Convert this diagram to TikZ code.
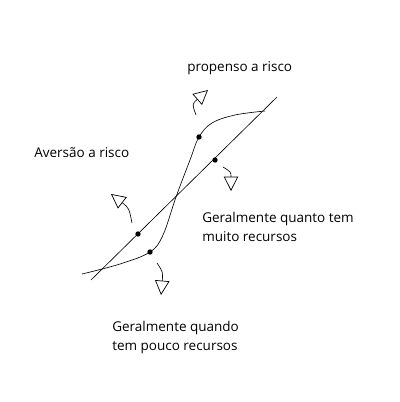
\documentclass[tikz,border=0pt]{standalone}
\usepackage{fontspec}
\setmainfont{Open Sans}
\usetikzlibrary{arrows.meta}

\begin{document}
\begin{tikzpicture}[
  x=0.025cm, y=-0.025cm,
  font=\fontsize{9.6pt}{13.5pt}\selectfont,
  line/.style={black, line width=0.45pt},
  turnarrow/.style={black, line width=0.45pt,
               -{Triangle[open, length=3.6mm, width=3.6mm, line width=0.5pt]}},
  dot/.style={circle, fill=black, inner sep=0pt, minimum size=1.35mm},
  label/.style={anchor=west, inner sep=0pt, align=left}
]
\useasboundingbox (0,0) rectangle (400,402);

% --- key points ---
\coordinate (l1) at (91,280);
\coordinate (l2) at (277,97);
\coordinate (s0) at (82,274);
\coordinate (s1) at (150,252);
\coordinate (s2) at (199,137);
\coordinate (s3) at (265,111);

% --- straight line and S curve ---
\draw[line] (l1) -- (l2);
\draw[line] plot[smooth, tension=0.6] coordinates
  {(s0) (120,264) (s1) (163,235) (176,197) (190,160) (s2) (212,123) (235,115) (s3)};

% --- dots ---
\node[dot] (d1) at (138,234) {};
\node[dot] (d2) at (215,160) {};
\node[dot] (d3) at (s1) {};
\node[dot] (d4) at (s2) {};

% --- arrows ---
\coordinate (a1) at (196,115);
\coordinate (b1) at (208,90);
\draw[turnarrow] (a1) .. controls (192,104) .. (b1);
\coordinate (a2) at (132,223);
\coordinate (b2) at (111,194);
\draw[turnarrow] (a2) .. controls (129,208) .. (b2);
\coordinate (a3) at (223,167);
\coordinate (b3) at (231,191);
\draw[turnarrow] (a3) .. controls (231,172) .. (b3);
\coordinate (a4) at (157,263);
\coordinate (b4) at (161,295);
\draw[turnarrow] (a4) .. controls (163,272) .. (b4);

% --- texts ---
\node[label] (t1) at (187,68) {propenso a risco};
\node[label] (t2) at (34,153) {Aversão a risco};
\node[label] (t3) at (202,227) {Geralmente quanto tem\\muito recursos};
\node[label] (t4) at (112,337) {Geralmente quando\\tem pouco recursos};

\end{tikzpicture}
\end{document}
